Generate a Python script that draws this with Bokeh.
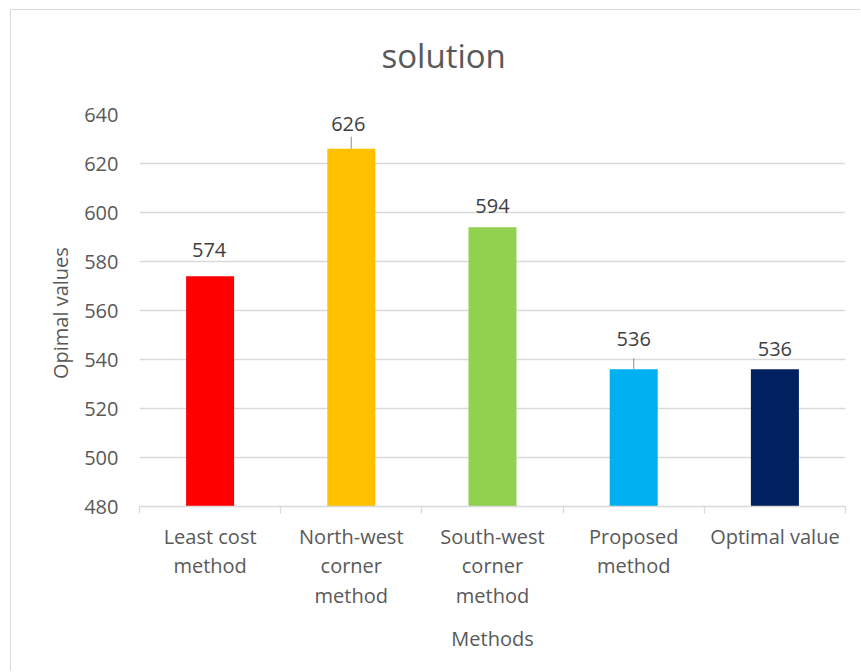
from bokeh.plotting import figure
from bokeh.models import (Range1d, LinearAxis, FixedTicker, ColumnDataSource,
                          CustomJSTickFormatter, Title)
from bokeh.embed import file_html
from bokeh.resources import INLINE
from bokeh.core.properties import value

# ---- data ----
methods = ["Least cost method", "North-west corner method",
           "South-west corner method", "Proposed method", "Optimal value"]
tick_labels = ["Least cost\nmethod", "North-west\ncorner\nmethod",
               "South-west\ncorner\nmethod", "Proposed\nmethod", "Optimal value"]
values = [574, 626, 594, 536, 536]
colors = ["#FF0000", "#FFC000", "#92D050", "#00B0F0", "#002060"]
y_ticks = [480, 500, 520, 540, 560, 580, 600, 620, 640]
title_text = "solution"

# label placement (pixels above bar top), leader line lengths (pixels)
label_gap = [26, 25, 21, 30, 20]
label_dx = [-1, -3, 0, 0, 0]
leader_len = [0, 12, 0, 11, 0]

FONT = "Open Sans"
TXT = "#595959"
GRID = "#d9d9d9"

y_min, y_max = y_ticks[0], y_ticks[-1]
n = len(methods)
xpos = [i + 0.5 for i in range(n)]

p = figure(x_range=Range1d(0, n), y_range=Range1d(y_min, y_max),
           width=850, height=662, output_backend="svg", toolbar_location=None,
           x_axis_location=None, title_location=None,
           min_border_left=128, min_border_right=16,
           min_border_top=104, min_border_bottom=166,
           outline_line_color=None)
p.styles = {"margin-left": "10px", "margin-top": "9px",
            "border-left": "1px solid #d9d9d9", "border-top": "1px solid #d9d9d9"}

# title: a thin spacer next to the frame, then the title text above it
spacer = Title(text=" ", text_font_size="1px", standoff=34)
p.add_layout(spacer, "above")
main_title = Title(text=title_text, align="left", offset=242, standoff=0,
                   text_font=FONT, text_font_size="33px",
                   text_font_style="normal", text_color=TXT)
p.add_layout(main_title, "above")

# grid
p.xgrid.grid_line_color = None
p.ygrid.grid_line_color = GRID
p.ygrid.grid_line_width = 1.3

# y axis
p.yaxis.ticker = FixedTicker(ticks=y_ticks)
p.yaxis.axis_line_color = None
p.yaxis.major_tick_line_color = None
p.yaxis.minor_tick_line_color = None
p.yaxis.major_label_standoff = 15
p.yaxis.major_label_text_font = FONT
p.yaxis.major_label_text_font_size = "20px"
p.yaxis.major_label_text_color = TXT
p.yaxis.axis_label = "Opimal  values"
p.yaxis.axis_label_text_font = FONT
p.yaxis.axis_label_text_font_size = "20px"
p.yaxis.axis_label_text_font_style = "normal"
p.yaxis.axis_label_text_color = TXT
p.yaxis.axis_label_standoff = 7

# x axis: boundary ticks + line
tick_axis = LinearAxis(ticker=FixedTicker(ticks=list(range(n + 1))),
                       formatter=CustomJSTickFormatter(code="return ''"),
                       axis_line_color=GRID, axis_line_width=1.3,
                       major_tick_line_color=GRID, major_tick_line_width=1.3,
                       major_tick_in=0, major_tick_out=7,
                       minor_tick_line_color=None,
                       major_label_text_font_size="1px",
                       major_label_standoff=0)
p.add_layout(tick_axis, "below")

# x axis: category labels
cat_axis = LinearAxis(ticker=FixedTicker(ticks=xpos),
                      major_label_overrides=dict(zip(xpos, tick_labels)),
                      axis_line_color=None, major_tick_line_color=None,
                      minor_tick_line_color=None,
                      major_label_standoff=3,
                      major_label_text_font=FONT,
                      major_label_text_font_size="20px",
                      major_label_text_color=TXT,
                      major_label_text_line_height=1.1,
                      major_label_orientation="horizontal",
                      axis_label="Methods",
                      axis_label_text_font=FONT,
                      axis_label_text_font_size="20px",
                      axis_label_text_font_style="normal",
                      axis_label_text_color=TXT,
                      axis_label_standoff=13)
p.add_layout(cat_axis, "below")

# bars
src = ColumnDataSource(dict(x=xpos, method=methods, value=values, color=colors,
                            label=[str(v) for v in values],
                            yoff=[-g for g in label_gap], xoff=label_dx))
p.vbar(x="x", top="value", bottom=y_min, width=0.34, fill_color="color",
       line_color=None, source=src)

# data labels
p.text(x="x", y="value", text="label", source=src,
       x_offset="xoff", y_offset="yoff",
       text_font=value(FONT), text_font_size="20px", text_color="#404040",
       text_align="center", text_baseline="alphabetic")

# leader lines
px_per_unit = 392 / (y_max - y_min)
lx, ly0, ly1 = [], [], []
for xx, v, ln in zip(xpos, values, leader_len):
    if ln > 0:
        lx.append(xx)
        ly0.append(v)
        ly1.append(v + ln / px_per_unit)
p.segment(x0=lx, y0=ly0, x1=lx, y1=ly1,
          line_color="#a6a6a6", line_width=1.3)

open("out.html", "w").write(file_html(p, INLINE))
